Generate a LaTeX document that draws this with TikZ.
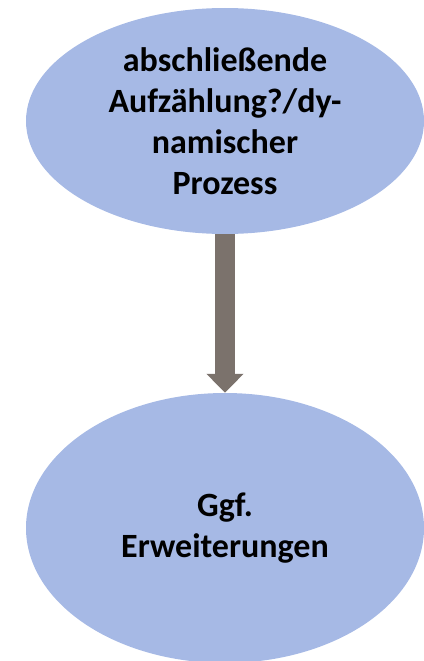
\documentclass[tikz,border=0pt]{standalone}
\usepackage{fontspec}
\setmainfont{Carlito}
\usetikzlibrary{shapes.geometric,arrows.meta}
\definecolor{ellfill}{RGB}{166,185,229}
\definecolor{arrcol}{RGB}{123,114,108}
\tikzset{
  bubble/.style={ellipse, fill=ellfill, draw=none, inner sep=0pt,
    minimum width=398pt, align=center,
    font=\bfseries\fontsize{34}{41}\selectfont},
  flowarrow/.style={draw=arrcol, line width=20pt,
    -{Triangle[width=36pt,length=19pt]}}
}
\begin{document}
\begin{tikzpicture}[x=1pt,y=-1pt]
\useasboundingbox (0,0) rectangle (423,661);
\node[bubble, minimum height=226pt] (a) at (225,121) {abschließende\\Aufzählung?/dy-\\namischer\\Prozess};
\node[bubble, minimum height=270pt] (b) at (225,528) {Ggf.\\Erweiterungen};
\draw[flowarrow] (a.south) -- (b.north);
\end{tikzpicture}
\end{document}
